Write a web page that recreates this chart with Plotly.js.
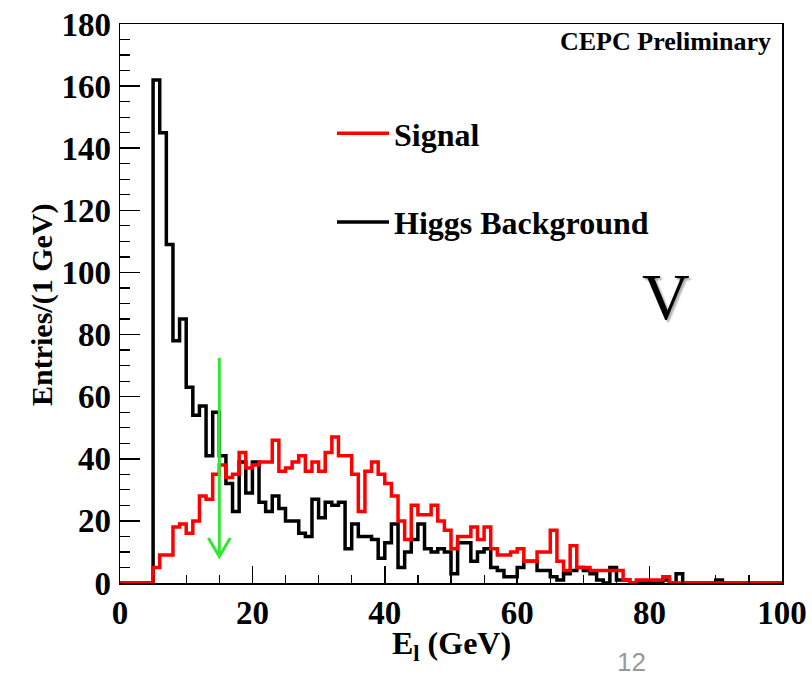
<!DOCTYPE html>
<html>
<head>
<meta charset="utf-8">
<script src="https://cdn.plot.ly/plotly-3.0.1.min.js"></script>
<style>html,body{margin:0;padding:0;background:#fff;}</style>
</head>
<body>
<div id="chart" style="width:812px;height:676px;"></div>
<script>
// ---- data (entries per 1 GeV bin, bins 0..99 GeV) ----
const nBins = 100;
const binWidth = 1;
const signal = [
  0,0,0,0,0, 5,9,9,18,19, 16,20,28,27,35, 38,34,35,42,37,
  38,39,39,46,36, 37,39,41,36,39, 36,42,47,41,41, 35,23,36,39,35,
  32,28,20,14,25, 22,22,25,20,17, 11,15,15,18,14, 18,11,9,9,10,
  11,7,7,10,10, 17,7,4,12,5, 5,4,4,4,4, 4,1,0,1,1,
  1,1,2,0,0, 0,0,0,0,0, 0,0,0,0,0, 0,0,0,0,0
];
const higgsBkg = [
  0,0,0,0,0, 162,145,109,78,85, 63,54,57,41,55, 41,32,23,39,29,
  39,26,23,28,24, 20,20,16,15,27, 21,26,25,26,11, 19,15,15,14,8,
  13,19,5,10,14, 19,11,10,11,10, 3,13,13,7,10, 11,5,4,2,2,
  5,7,7,4,4, 2,1,3,4,5, 4,3,1,0,5, 1,1,0,0,0,
  0,0,1,0,3, 0,0,0,0,0, 1,0,0,0,0, 0,0,0,0,0
];
const seriesNames = ["Signal", "Higgs Background"];
const xTickVals = [0, 20, 40, 60, 80, 100];
const yTickVals = [0, 20, 40, 60, 80, 100, 120, 140, 160, 180];
// cut arrow (E_l = 15 GeV)
const cutValue = 15;
const arrowTop = 72.5;
const arrowTip = 8.5;
const arrowHalfWidth = 1.65;
const arrowArm = 6;

// ---- build step histograms ----
function stepXY(vals) {
  const x = [], y = [];
  for (let i = 0; i < nBins; i++) { x.push(i * binWidth); y.push(vals[i]); }
  x.push(nBins * binWidth); y.push(vals[nBins - 1]);
  return {x, y};
}
const bk = stepXY(higgsBkg);
const sg = stepXY(signal);

const serif = "Liberation Serif, Times New Roman, serif";
const green = "#33e633";

const traces = [
  {x: bk.x, y: bk.y, type: "scatter", mode: "lines", line: {shape: "hv", color: "#000", width: 3.5},
   name: seriesNames[1], legendgroup: "b", legendrank: 2},
  {x: sg.x, y: sg.y, type: "scatter", mode: "lines", line: {shape: "hv", color: "#ff0000", width: 3.5},
   name: seriesNames[0], legendgroup: "a", legendrank: 1},
  {x: [cutValue, cutValue], y: [arrowTop, arrowTip], type: "scatter", mode: "lines",
   line: {color: green, width: 3}, showlegend: false, hoverinfo: "skip"},
  {x: [cutValue - arrowHalfWidth, cutValue, cutValue + arrowHalfWidth],
   y: [arrowTip + arrowArm, arrowTip, arrowTip + arrowArm], type: "scatter", mode: "lines",
   line: {color: green, width: 3}, showlegend: false, hoverinfo: "skip"}
];

// pixel helpers for plot-area-relative placement
const L = 120, R = 782, T = 24, B = 583;
const px = v => (v - L) / (R - L);
const py = v => (B - v) / (B - T);

const layout = {
  width: 812, height: 676,
  margin: {l: L, r: 812 - R, t: T, b: 676 - B},
  paper_bgcolor: "#fff", plot_bgcolor: "#fff",
  showlegend: true,
  legend: {
    x: px(332), y: py(106), xanchor: "left", yanchor: "top",
    bgcolor: "rgba(0,0,0,0)", borderwidth: 0,
    traceorder: "grouped", tracegroupgap: 44,
    itemwidth: 52,
    font: {family: serif, size: 32, color: "#000", weight: "bold"}
  },
  xaxis: {
    range: [0, 100], tickvals: xTickVals, ticktext: xTickVals.map(String),
    ticks: "inside", ticklen: 17, tickwidth: 1.5, tickcolor: "#000",
    minor: {dtick: 5, tick0: 0, ticks: "inside", ticklen: 8, tickwidth: 1.2, tickcolor: "#000", showgrid: false},
    showgrid: false, zeroline: false, showline: true, mirror: true,
    linecolor: "#000", linewidth: 1.5, ticklabelstandoff: 0,
    tickfont: {family: serif, size: 33, color: "#000", weight: "bold"}
  },
  yaxis: {
    range: [0, 180], tickvals: yTickVals, ticktext: yTickVals.map(String),
    ticks: "inside", ticklen: 20, tickwidth: 1.5, tickcolor: "#000",
    minor: {dtick: 5, tick0: 0, ticks: "inside", ticklen: 10, tickwidth: 1.2, tickcolor: "#000", showgrid: false},
    showgrid: false, zeroline: false, showline: true, mirror: true,
    linecolor: "#000", linewidth: 1.5, ticklabelstandoff: 1,
    tickfont: {family: serif, size: 33, color: "#000", weight: "bold"}
  },
  annotations: [
    {text: "<b>Entries/(1 GeV)</b>", xref: "paper", yref: "paper", x: px(42), y: py(305),
     textangle: -90, showarrow: false, xanchor: "center", yanchor: "middle",
     font: {family: serif, size: 30, color: "#000"}},
    {text: "<b>E<sub>l</sub> (GeV)</b>", xref: "paper", yref: "paper", x: px(451), y: py(645),
     showarrow: false, xanchor: "center", yanchor: "middle",
     font: {family: serif, size: 32, color: "#000"}},
    {text: "<b>CEPC Preliminary</b>", xref: "paper", yref: "paper", x: px(773), y: py(42),
     showarrow: false, xanchor: "right", yanchor: "middle",
     font: {family: serif, size: 26, color: "#000"}},
    {text: "V", xref: "paper", yref: "paper", x: px(666), y: py(296),
     showarrow: false, xanchor: "center", yanchor: "middle",
     font: {family: serif, size: 66, color: "#000", shadow: "2px 2px 2px #aaa"}},
    {text: "12", xref: "paper", yref: "paper", x: px(631), y: py(662),
     showarrow: false, xanchor: "center", yanchor: "middle",
     font: {family: "Liberation Sans, Arial, sans-serif", size: 26, color: "#9a9a9a"}}
  ]
};

Plotly.newPlot("chart", traces, layout, {staticPlot: true, displayModeBar: false});
</script>
</body>
</html>
